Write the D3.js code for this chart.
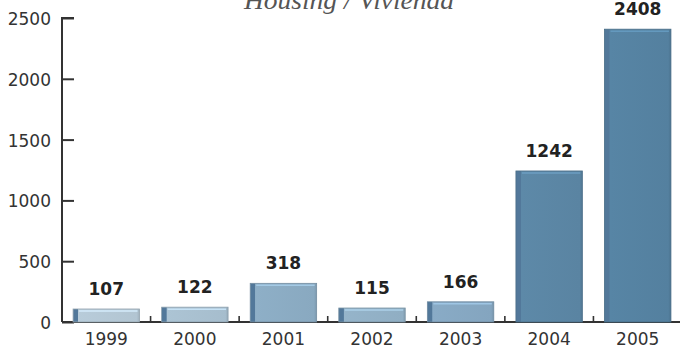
<!DOCTYPE html>
<html>
<head>
<meta charset="utf-8">
<script src="https://cdn.jsdelivr.net/npm/d3@7/dist/d3.min.js"></script>
<style>
  html, body { margin: 0; padding: 0; background: #fff; }
  svg { display: block; }
</style>
</head>
<body>
<svg id="chart" width="680" height="349"></svg>
<script>
// Housing units per year
const years = ["1999", "2000", "2001", "2002", "2003", "2004", "2005"];
const values = [107, 122, 318, 115, 166, 1242, 2408];
const yTicks = [0, 500, 1000, 1500, 2000, 2500];
const title = "Housing / Vivienda";

// bar tints, light for the small years, deep steel blue for the large ones
const barColors = ["#b2c5d2", "#a6bdcd", "#89a9c0", "#90aec3", "#84a5bf", "#5a84a2", "#54809f"];
const edgeColor = "#52789a";

const svg = d3.select("#chart");
const W = 680, H = 349;
const plotLeft = 62, plotRight = 682, plotTop = 18, plotBottom = 322;

const x = d3.scaleBand().domain(years).range([plotLeft, plotRight])
  .paddingInner(0.25).paddingOuter(0.125);
const y = d3.scaleLinear().domain([0, 2500]).range([plotBottom, plotTop]);

const defs = svg.append("defs");
barColors.forEach((c, i) => {
  const base = d3.color(c);
  const g = defs.append("linearGradient").attr("id", "bar" + i)
    .attr("x1", 0).attr("x2", 1).attr("y1", 0).attr("y2", 0);
  g.append("stop").attr("offset", "0%").attr("stop-color", edgeColor);
  g.append("stop").attr("offset", "7%").attr("stop-color", edgeColor);
  g.append("stop").attr("offset", "8%").attr("stop-color", base.brighter(0.1));
  g.append("stop").attr("offset", "96%").attr("stop-color", base);
  g.append("stop").attr("offset", "100%").attr("stop-color", base.darker(0.3));
});

// title, running off the top edge
svg.append("text")
  .attr("x", 349).attr("y", 9)
  .attr("text-anchor", "middle")
  .attr("font-family", "Liberation Serif, serif")
  .attr("font-style", "italic")
  .attr("font-size", 25)
  .attr("fill", "#555")
  .attr("textLength", 210)
  .attr("lengthAdjust", "spacingAndGlyphs")
  .text(title);

// x baseline with small separators between bars
svg.append("line")
  .attr("x1", plotLeft).attr("x2", W).attr("y1", plotBottom).attr("y2", plotBottom)
  .attr("stroke", "#333").attr("stroke-width", 2);
svg.append("g").selectAll("line")
  .data(years.slice(0, -1))
  .join("line")
  .attr("x1", d => x(d) + x.bandwidth() + x.step() * x.paddingInner() / 2)
  .attr("x2", d => x(d) + x.bandwidth() + x.step() * x.paddingInner() / 2)
  .attr("y1", plotBottom).attr("y2", plotBottom - 6)
  .attr("stroke", "#333").attr("stroke-width", 1.6);

// y axis, ticks pointing into the plot
const yAxis = d3.axisRight(y).tickValues(yTicks).tickSize(12).tickFormat("");
const gy = svg.append("g").attr("transform", `translate(${plotLeft},0)`).call(yAxis);
gy.select(".domain").attr("stroke", "#333").attr("stroke-width", 2)
  .attr("d", `M12,${plotTop}H0V${plotBottom}`);
gy.selectAll(".tick line").attr("stroke", "#333").attr("stroke-width", 2);

svg.append("g").selectAll("text")
  .data(yTicks)
  .join("text")
  .attr("x", 51).attr("y", d => y(d) + 7)
  .attr("text-anchor", "end")
  .attr("font-family", "DejaVu Sans, Verdana, sans-serif")
  .attr("font-size", 17)
  .attr("fill", "#333")
  .text(d => d);

// bars
svg.append("g").selectAll("rect")
  .data(values)
  .join("rect")
  .attr("x", (d, i) => x(years[i]))
  .attr("width", x.bandwidth())
  .attr("y", d => y(d))
  .attr("height", d => plotBottom - y(d))
  .attr("fill", (d, i) => `url(#bar${i})`)
  .attr("stroke", (d, i) => d3.color(barColors[i]).darker(0.5))
  .attr("stroke-width", 0.8);

// top highlight on each bar
svg.append("g").selectAll("line")
  .data(values)
  .join("line")
  .attr("x1", (d, i) => x(years[i]) + 6)
  .attr("x2", (d, i) => x(years[i]) + x.bandwidth() - 2)
  .attr("y1", d => y(d) + 2).attr("y2", d => y(d) + 2)
  .attr("stroke", (d, i) => d3.color(barColors[i]).brighter(0.5))
  .attr("stroke-width", 1.5);

// value labels
svg.append("g").selectAll("text")
  .data(values)
  .join("text")
  .attr("x", (d, i) => x(years[i]) + x.bandwidth() / 2)
  .attr("y", d => y(d) - 14)
  .attr("text-anchor", "middle")
  .attr("font-family", "DejaVu Sans, Verdana, sans-serif")
  .attr("font-weight", "bold")
  .attr("font-size", 17)
  .attr("fill", "#222")
  .text(d => d);

// year labels
svg.append("g").selectAll("text")
  .data(years)
  .join("text")
  .attr("x", d => x(d) + x.bandwidth() / 2)
  .attr("y", 345)
  .attr("text-anchor", "middle")
  .attr("font-family", "DejaVu Sans, Verdana, sans-serif")
  .attr("font-size", 17)
  .attr("fill", "#333")
  .text(d => d);
</script>
</body>
</html>
